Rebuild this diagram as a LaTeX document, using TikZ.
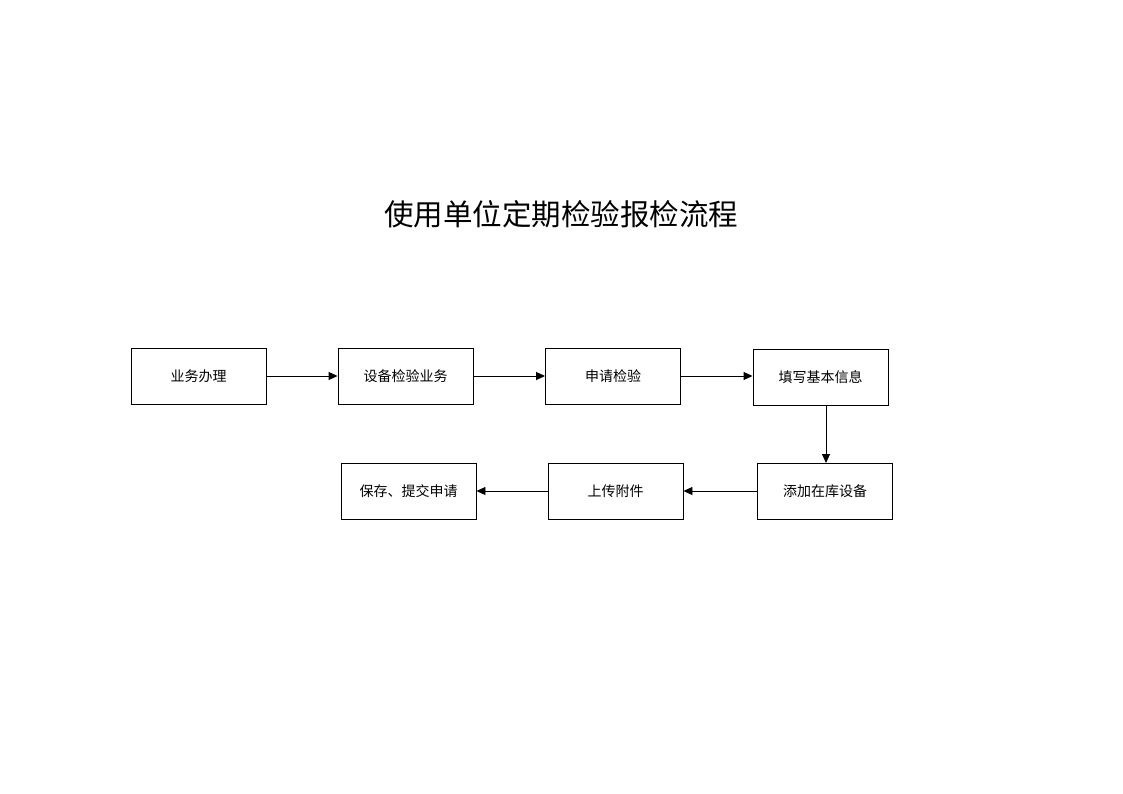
\documentclass[tikz,border=0pt]{standalone}
\usepackage{fontspec}
\newfontfamily\cjk{Noto Sans CJK SC}
\usetikzlibrary{arrows.meta}
\begin{document}
\begin{tikzpicture}[x=1pt,y=-1pt,
  box/.style={draw, line width=0.9pt, minimum width=135pt, minimum height=56pt, inner sep=0pt, font=\cjk\fontsize{14}{16}\selectfont},
  conn/.style={line width=0.9pt, -{Triangle[length=9pt,width=8pt]}}]
\useasboundingbox (0,0) rectangle (1123,794);
\node[font=\cjk\fontsize{29.5}{34}\selectfont] (title) at (561,214) {使用单位定期检验报检流程};
\node[box] (b1) at (198.5,376) {业务办理};
\node[box] (b2) at (405.5,376) {设备检验业务};
\node[box] (b3) at (613,376) {申请检验};
\node[box] (b4) at (820.5,377) {填写基本信息};
\node[box] (b5) at (825,491) {添加在库设备};
\node[box] (b6) at (615.5,491) {上传附件};
\node[box] (b7) at (408.5,491) {保存、提交申请};
\draw[conn] (b1.east) -- (b2.west);
\draw[conn] (b2.east) -- (b3.west);
\draw[conn] (b3.east) -- (b4.west |- b3.east);
\draw[conn] (826,405) -- (826,463);
\draw[conn] (b5.west) -- (b6.east);
\draw[conn] (b6.west) -- (b7.east);
\end{tikzpicture}
\end{document}
